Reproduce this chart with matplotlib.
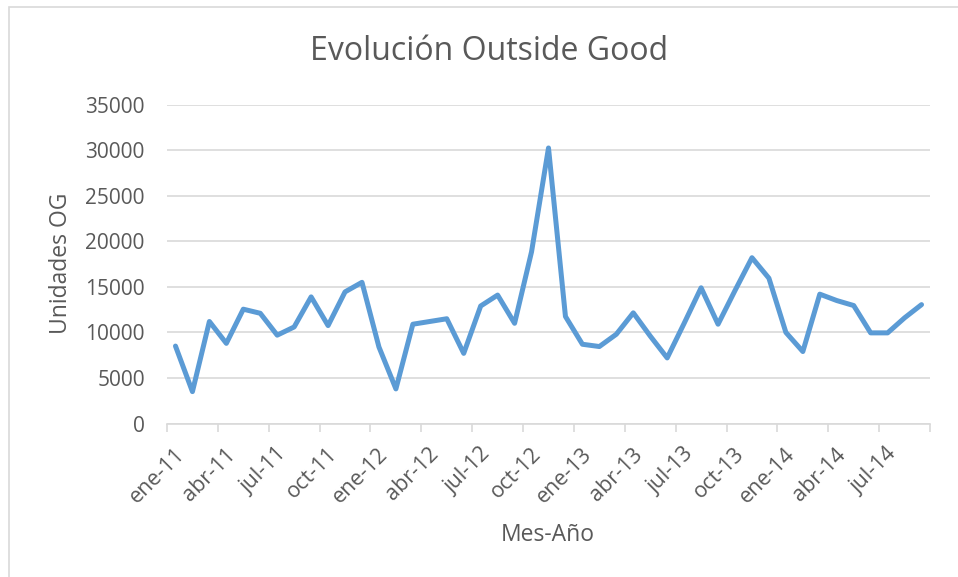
import matplotlib
matplotlib.use("Agg")
import matplotlib.pyplot as plt
from matplotlib.patches import Rectangle
from matplotlib.transforms import ScaledTranslation
import numpy as np

plt.rcParams['font.family'] = ['Open Sans', 'DejaVu Sans']

months = ["ene", "feb", "mar", "abr", "may", "jun", "jul", "ago", "sep", "oct", "nov", "dic"]
categories = [f"{m}-{y}" for y in ["11", "12", "13", "14"] for m in months][:45]

values = [8500, 3500, 11200, 8800, 12550, 12100, 9700, 10600, 13900, 10750, 14450, 15500,
          8400, 3800, 10900, 11200, 11500, 7700, 12900, 14100, 11000, 18850, 30250, 11750,
          8700, 8450, 9800, 12150, 9600, 7200, 11000, 14900, 10900, 14600, 18200, 15950,
          10000, 7900, 14200, 13500, 12950, 9950, 9950, 11600, 13050]

title = "Evolución Outside Good"
xlabel = "Mes-Año"
ylabel = "Unidades OG"

TEXT = "#595959"
GRID = "#D9D9D9"
LINE = "#5B9BD5"

W, H = 958, 577
fig = plt.figure(figsize=(W / 100, H / 100), dpi=100)

# chart frame (cropped at right and bottom)
fig.patches.append(Rectangle((9 / W, -0.05), 1.1, 1 - 6.5 / H + 0.05, transform=fig.transFigure,
                             fill=False, edgecolor=GRID, linewidth=1.2))

ax = fig.add_axes([167 / W, 1 - 423.5 / H, (930 - 167) / W, (423.5 - 104.7) / H])

x = np.arange(len(values))
ax.plot(x, values, color=LINE, linewidth=3.6, solid_joinstyle='round', solid_capstyle='round')

ax.set_xlim(-0.5, len(values) - 0.5)
ax.set_ylim(0, 35000)
ax.set_yticks(np.arange(0, 35001, 5000))
ax.grid(axis='y', color=GRID, linewidth=1.2)
ax.set_axisbelow(True)

for s in ['top', 'right', 'left']:
    ax.spines[s].set_visible(False)
ax.spines['bottom'].set_color(GRID)
ax.spines['bottom'].set_linewidth(1.2)

ax.tick_params(axis='y', length=0, pad=16, labelsize=15, labelcolor=TEXT)

# major ticks: boundaries every 3 categories (marks only)
ax.set_xticks(np.arange(-0.5, len(values), 3))
ax.set_xticklabels([])
ax.tick_params(axis='x', which='major', length=6, color=GRID, width=1.2)
# minor ticks: labels at category centres
lab_pos = np.arange(0, len(values), 3)
ax.set_xticks(lab_pos, minor=True)
ax.set_xticklabels([categories[i] for i in lab_pos], minor=True, rotation=45,
                   ha='right', va='center', rotation_mode='anchor')
ax.tick_params(axis='x', which='minor', length=0, pad=20, labelsize=15.5, labelcolor=TEXT)
off = ScaledTranslation(6 / 100, 0, fig.dpi_scale_trans)
for lbl in ax.get_xticklabels(minor=True):
    lbl.set_transform(lbl.get_transform() + off)

fig.text(489 / W, 1 - 52 / H, title, ha='center', va='center', fontsize=23, color=TEXT)
fig.text(548 / W, 1 - 535 / H, xlabel, ha='center', va='center', fontsize=16.5, color=TEXT)
fig.text(61 / W, 1 - 263 / H, ylabel, ha='center', va='center', rotation=90, fontsize=16.5, color=TEXT)

fig.savefig("out.png", dpi=100)
